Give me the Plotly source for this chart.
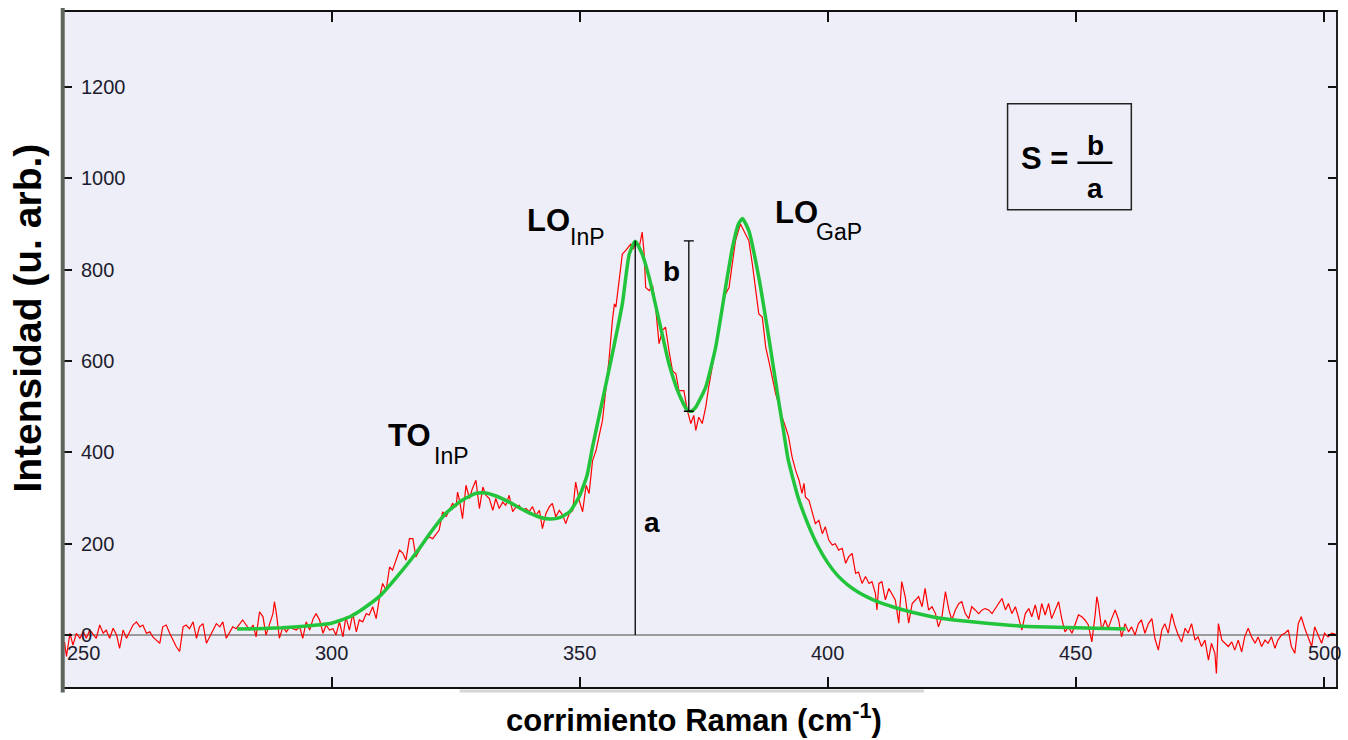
import plotly.graph_objects as go

# Measured Raman spectrum (cm-1, arbitrary units)
measured = [
    (246.2, -15), (246.6, -47), (247.3, 4), (247.9, -22), (248.6, 4), (249.3, -7), (250.0, 7),
    (250.6, -7), (251.3, 11), (252.0, 0), (252.6, -7), (253.3, 22), (254.0, 4), (254.6, 11),
    (255.3, -7), (256.0, 15), (256.7, 0), (257.3, -29), (258.0, 11), (258.7, -7), (259.3, 7),
    (260.0, 22), (260.7, 29), (261.4, 18), (262.0, 22), (262.7, 4), (263.4, 7), (264.0, -4),
    (264.7, -11), (265.4, -18), (266.0, 18), (266.7, 22), (267.4, 4), (268.1, -11), (268.7, -25),
    (269.4, -36), (270.1, 18), (270.7, 22), (271.4, 14), (272.1, 29), (272.8, -7), (273.4, 18),
    (274.1, 25), (274.8, -18), (275.4, -4), (276.1, 11), (276.8, 25), (277.5, 18), (278.1, 29),
    (278.8, -7), (279.5, 7), (280.1, 18), (280.8, 14), (281.5, 25), (282.1, 33), (282.8, 22),
    (283.5, 11), (284.2, 22), (284.8, -4), (285.5, 51), (286.2, 40), (286.8, 0), (287.5, 22),
    (288.2, 47), (288.5, 73), (288.9, 47), (289.5, -7), (290.2, 18), (290.9, 7), (291.6, 18),
    (292.2, 14), (292.9, 11), (293.6, 18), (294.2, -7), (294.9, 29), (295.6, 11), (296.3, 36),
    (296.9, 47), (297.6, 33), (298.3, 4), (298.9, 22), (299.6, 11),
    (300.3, 14), (300.9, 0), (301.6, 29), (302.3, -4), (302.9, 40), (303.6, 11), (304.3, 47),
    (305.0, 7), (305.6, 33), (306.3, 29), (307.0, 47), (307.6, 44), (308.3, 62), (309.0, 36),
    (309.7, 84), (310.3, 113), (311.0, 98), (311.7, 149), (312.3, 142), (313.0, 164), (313.7, 186),
    (314.4, 179), (315.0, 164), (315.7, 211), (316.4, 211), (317.0, 171), (317.7, 186), (318.4, 200),
    (319.0, 208), (319.7, 215), (320.4, 211), (321.1, 222), (321.7, 230), (322.4, 270), (323.1, 259),
    (323.7, 273), (324.4, 288), (325.1, 281), (325.4, 313), (325.8, 295), (326.4, 255), (327.1, 328),
    (327.8, 299), (328.4, 321), (329.1, 339), (329.8, 277), (330.5, 324), (331.1, 306), (331.8, 299),
    (332.5, 273), (333.1, 299), (333.8, 277), (334.5, 291), (335.1, 284), (335.8, 306), (336.5, 270),
    (337.2, 281), (337.8, 284), (338.5, 273), (339.2, 277), (339.8, 270), (340.5, 281), (341.2, 262),
    (341.9, 273), (342.5, 233), (343.2, 266), (343.9, 281), (344.5, 288), (345.2, 259), (345.9, 273),
    (346.6, 262), (347.2, 244), (347.9, 266), (348.6, 273), (349.2, 335), (349.9, 295), (350.6, 270),
    (351.3, 328), (351.9, 310), (352.6, 382),
    (353.3, 404), (354.0, 440), (354.6, 470), (355.3, 540), (355.9, 601), (356.6, 689), (357.0, 725),
    (357.3, 718), (357.9, 776), (358.6, 834), (359.3, 842), (359.8, 850), (360.3, 856), (360.8, 845),
    (361.3, 860), (362.0, 849), (362.6, 882), (363.0, 834), (363.3, 761), (364.0, 754), (364.7, 765),
    (365.3, 718), (366.0, 638), (366.7, 667), (367.3, 674), (368.0, 623), (368.7, 579), (369.4, 572),
    (370.0, 535), (371.0, 535), (371.7, 492), (372.4, 463), (373.0, 481), (373.4, 448), (374.0, 477),
    (374.7, 463), (375.4, 499), (376.0, 543), (376.7, 586), (377.4, 623), (378.1, 674), (378.7, 718),
    (379.4, 747), (380.1, 761), (380.8, 820), (381.4, 863), (382.4, 900), (383.4, 878), (384.1, 863),
    (384.8, 812), (385.4, 761), (386.1, 703), (386.8, 696), (387.5, 630), (388.1, 601), (388.8, 565),
    (389.5, 528),
    (390.1, 506), (390.8, 477), (391.5, 455), (392.1, 434), (392.8, 390), (393.5, 361), (394.2, 339),
    (394.8, 310), (395.2, 332), (395.5, 302), (396.2, 295), (396.8, 273), (397.5, 244), (398.2, 251),
    (398.9, 222), (399.5, 237), (400.2, 208), (400.9, 197), (401.5, 200), (402.2, 186), (402.9, 190),
    (403.6, 157), (404.2, 171), (404.9, 179), (405.6, 135), (406.2, 138), (406.9, 113), (407.6, 128),
    (408.3, 113), (408.9, 117), (409.6, 91), (409.9, 55), (410.3, 113), (410.9, 117), (411.6, 77),
    (412.3, 102), (412.9, 91), (413.6, 77), (414.3, 26), (414.9, 117), (415.6, 84), (416.3, 26),
    (417.0, 69), (417.6, 77), (418.3, 84), (419.0, 62), (419.6, 102), (420.3, 55), (421.0, 62),
    (421.7, 47), (422.3, 18), (423.0, 40), (423.7, 95), (424.4, 55), (425.0, 33), (425.7, 55),
    (426.4, 69), (427.0, 73), (427.7, 47), (428.4, 36), (429.0, 62), (429.7, 55), (430.4, 47),
    (431.1, 55), (431.7, 58), (432.4, 55), (433.1, 47),
    (434.4, 69), (435.1, 80), (435.8, 55), (436.4, 69), (437.1, 47), (437.8, 62), (438.4, 40),
    (439.1, 11), (439.8, 47), (440.5, 58), (441.1, 40), (441.8, 66), (442.5, 33), (443.1, 69),
    (443.8, 44), (444.5, 69), (445.1, 36), (445.8, 55), (446.5, 73), (447.2, 33), (447.8, 7),
    (448.5, 18), (449.2, 4), (449.8, 22), (450.5, 44), (451.2, 40), (451.8, 33), (452.5, 22),
    (453.2, -15), (453.9, 47), (454.2, 84), (454.5, 69), (455.2, 11), (455.9, 33), (456.5, 15),
    (457.2, 36), (457.9, 55), (458.6, 33), (459.2, -4), (459.9, 25), (460.6, 7), (461.2, 18),
    (461.9, 0), (462.6, 25), (463.2, 33), (463.9, 4), (464.6, 25), (465.3, 36), (465.9, -7),
    (466.6, -33), (467.3, 11), (467.9, 25), (468.6, 4), (469.3, 47), (469.9, 22), (470.6, 0),
    (471.3, -15), (472.0, 15), (472.6, 4), (473.3, 25), (474.0, -11), (474.6, -4), (475.3, -25),
    (476.0, -11), (476.7, -55), (477.3, -18), (478.0, -40), (478.3, -84), (478.7, 25), (479.4, -11),
    (480.0, -18), (480.7, -25), (481.4, -15), (482.0, -33), (482.7, -11), (483.4, -37), (484.0, -4),
    (484.7, 15), (485.4, -4), (486.1, -18), (486.7, -4), (487.4, -25), (488.1, -11), (488.7, -18),
    (489.4, -4), (490.1, -29), (490.7, -11), (491.4, 0), (492.1, 4), (492.8, 11), (493.4, -25),
    (494.1, -40), (494.8, 25), (495.4, 40), (496.1, 15), (496.8, -4), (497.5, -25), (498.1, 18),
    (498.8, 0), (499.5, -18), (500.1, 4), (500.8, -4), (501.5, 4), (502.3, 2),
]
meas_shift = [p[0] for p in measured]
meas_counts = [p[1] for p in measured]

# Fitted spectrum (TO InP, LO InP and LO GaP modes)
fit_shift = [281, 285, 290, 295, 300, 303.7, 306, 310, 313, 317, 320, 323, 326, 329, 331, 333,
             336, 339, 342, 344, 346, 348, 350, 351.5, 352.6, 354.6, 356.6, 358.6, 360, 361.2,
             362.6, 364, 366, 368, 370, 371.7, 372.5, 373.4, 375.4, 377.4, 379.4, 380.8, 382.0,
             382.8, 384.1, 386.1, 388.1, 390.1, 391, 392, 394, 396, 398, 400, 402, 404, 406,
             408, 410, 413, 417, 422, 428, 436, 442, 450, 460]
fit_counts = [13, 14, 16, 20, 26, 40, 55, 88, 125, 179, 225, 266, 293, 310, 311, 305,
              290, 272, 258, 254, 257, 270, 305, 350, 412, 514, 616, 725, 834, 862,
              834, 783, 689, 594, 528, 492, 490, 499, 543, 630, 761, 849, 900,
              912, 885, 783, 652, 512, 452, 385, 302, 243, 195, 158, 130, 110, 95,
              83, 73, 62, 50, 38, 30, 22, 18, 16, 13]

# Peak height a (LO InP) and dip depth b
a_shift = 361.2
a_height = 863
b_shift = 372.0
valley = 490

x_ticks = [250, 300, 350, 400, 450, 500]
y_ticks = [0, 200, 400, 600, 800, 1000, 1200]
x_range = [246.1, 502.4]
y_range = [-113.7, 1364]

tick_font = dict(family="Liberation Sans, Arial, sans-serif", size=20, color="#1c1c2e")
bold_font = "Liberation Sans, Arial, sans-serif"

fig = go.Figure()
fig.add_trace(go.Scatter(x=meas_shift, y=meas_counts, mode="lines",
                         line=dict(color="#FF0000", width=1.2), hoverinfo="skip"))
fig.add_trace(go.Scatter(x=fit_shift, y=fit_counts, mode="lines",
                         line=dict(color="#21C43A", width=3.5, shape="spline", smoothing=0.5),
                         hoverinfo="skip"))
fig.add_trace(go.Scatter(x=[a_shift, a_shift], y=[0, a_height], mode="lines",
                         line=dict(color="black", width=1.3), hoverinfo="skip"))
fig.add_trace(go.Scatter(x=[b_shift], y=[(valley + a_height) / 2], mode="markers",
                         marker=dict(size=1, color="rgba(0,0,0,0)"),
                         error_y=dict(type="data", array=[(a_height - valley) / 2],
                                      width=5, thickness=1.3, color="black"),
                         hoverinfo="skip"))


def label(x, y, text, size, bold=True, xanchor="left"):
    return dict(x=x, y=y, xref="x", yref="y", text=f"<b>{text}</b>" if bold else text,
                showarrow=False, xanchor=xanchor, yanchor="middle",
                font=dict(family=bold_font, size=size, color="black"))


annotations = [
    label(311.0, 437, "TO", 31),
    label(320.3, 392, "InP", 23, bold=False),
    label(339.0, 907, "LO", 31),
    label(347.7, 872, "InP", 23, bold=False),
    label(388.9, 925, "LO", 31),
    label(397.2, 882, "GaP", 23, bold=False),
    label(368.6, 795, "b", 28, xanchor="center"),
    label(364.6, 247, "a", 28, xanchor="center"),
    dict(x=0.7505, y=0.7825, xref="paper", yref="paper", text="<b>S =</b>", showarrow=False,
         xanchor="left", yanchor="middle", font=dict(family=bold_font, size=31, color="black")),
    dict(x=0.8108, y=0.8018, xref="paper", yref="paper", text="<b>b</b>", showarrow=False,
         xanchor="center", yanchor="middle", font=dict(family=bold_font, size=28, color="black")),
    dict(x=0.8108, y=0.7382, xref="paper", yref="paper", text="<b>a</b>", showarrow=False,
         xanchor="center", yanchor="middle", font=dict(family=bold_font, size=28, color="black")),
    dict(x=-0.029, y=0.546, xref="paper", yref="paper", text="<b>Intensidad (u. arb.)</b>",
         showarrow=False, textangle=-90, xanchor="center", yanchor="middle",
         font=dict(family=bold_font, size=39, color="black")),
    dict(x=0.4953, y=-0.0459, xref="paper", yref="paper",
         text="<b>corrimiento Raman (cm<sup>-1</sup>)</b>", showarrow=False,
         xanchor="center", yanchor="middle", font=dict(family=bold_font, size=31, color="black")),
]
# x tick labels sit just under the zero line, inside the frame
for v in x_ticks:
    annotations.append(dict(x=v, y=0.0503, xref="x", yref="paper", text=str(v),
                            showarrow=False, xanchor="center", yanchor="middle",
                            font=tick_font))

shapes = [
    # S = b/a box and fraction bar
    dict(type="rect", xref="paper", yref="paper", x0=0.7418, x1=0.8391, y0=0.7071, y1=0.8639,
         line=dict(color="#222222", width=1.5)),
    dict(type="line", xref="paper", yref="paper", x0=0.7967, x1=0.8242, y0=0.7766, y1=0.7766,
         line=dict(color="black", width=2.5)),
    # heavy left frame edge
    dict(type="line", xref="paper", yref="paper", x0=-0.001, x1=-0.001, y0=-0.008, y1=1.006,
         line=dict(color="#5d645d", width=4)),
    # faint rule under the frame
    dict(type="line", xref="paper", yref="paper", x0=0.311, x1=0.676, y0=-0.006, y1=-0.006,
         line=dict(color="#d6d6d6", width=3)),
]

fig.update_layout(
    width=1348, height=740,
    margin=dict(l=64, r=10, t=11, b=53),
    paper_bgcolor="white", plot_bgcolor="#EEEEF8",
    showlegend=False,
    xaxis=dict(range=x_range, tickvals=x_ticks, ticks="inside", ticklen=10, tickwidth=2,
               tickcolor="#111111", showticklabels=False, showline=True, linecolor="#111111",
               linewidth=2, mirror="ticks", showgrid=False, zeroline=False),
    yaxis=dict(range=y_range, tickvals=y_ticks, ticks="inside", ticklen=8, tickwidth=2,
               tickcolor="#111111", ticklabelposition="inside", ticklabelstandoff=10,
               tickfont=tick_font,
               showline=True, linecolor="#222222", linewidth=2, mirror="ticks",
               showgrid=False, zeroline=True, zerolinecolor="#9b9b9b", zerolinewidth=2),
    annotations=annotations,
    shapes=shapes,
)

fig.write_html("out.html")
